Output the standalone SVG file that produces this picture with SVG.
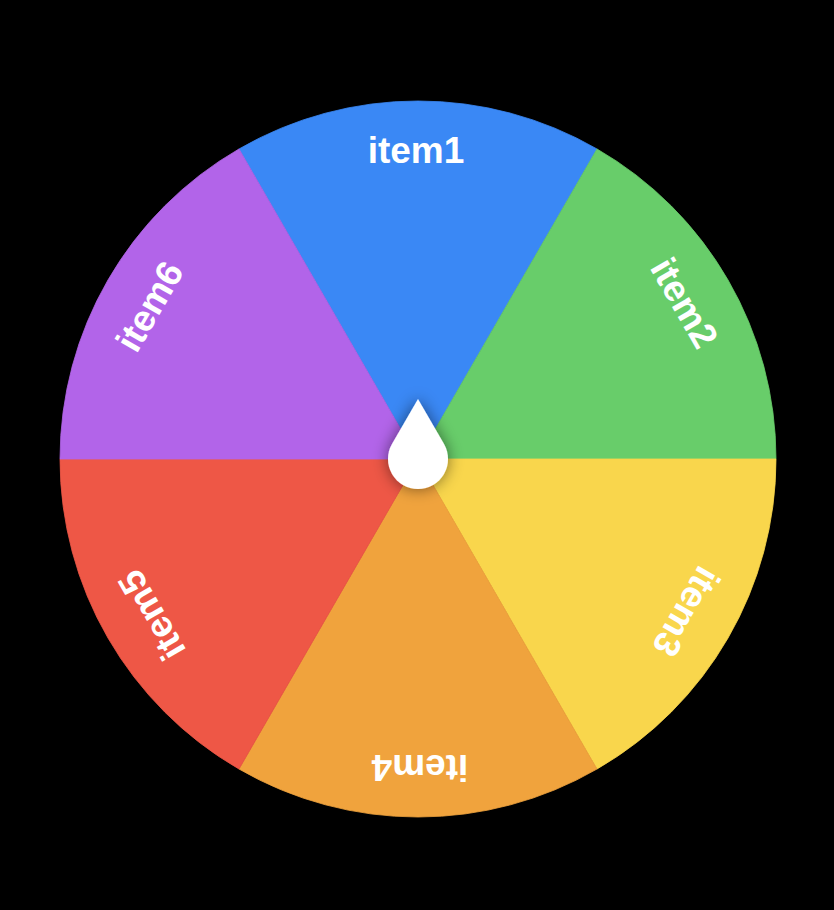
<svg xmlns="http://www.w3.org/2000/svg" width="834" height="910" viewBox="0 0 834 910">
<style>
.lbl{font-family:"Liberation Sans",Arial,sans-serif;font-weight:bold;font-size:37px;fill:#fff;text-anchor:middle}
.seg{stroke-width:0.8;stroke-linejoin:round}
</style>
<defs>
<filter id="sh" x="-100%" y="-100%" width="300%" height="300%">
<feGaussianBlur in="SourceAlpha" stdDeviation="8"/>
<feComponentTransfer><feFuncA type="linear" slope="0.5"/></feComponentTransfer>
<feMerge><feMergeNode/><feMergeNode in="SourceGraphic"/></feMerge>
</filter>
</defs>
<rect x="0" y="0" width="834" height="910" fill="#000"/>
<g id="item1"><path class="seg" d="M418,459 L239,148.96 A358,358 0 0 1 597,148.96 Z" fill="#3A88F5" stroke="#3A88F5"/><text class="lbl" x="416" y="163">item1</text></g>
<g id="item2"><path class="seg" d="M418,459 L597,148.96 A358,358 0 0 1 776,459 Z" fill="#68CD6A" stroke="#68CD6A"/><text class="lbl" x="416" y="163" transform="rotate(60 418 459)">item2</text></g>
<g id="item3"><path class="seg" d="M418,459 L776,459 A358,358 0 0 1 597,769.04 Z" fill="#F9D64C" stroke="#F9D64C"/><text class="lbl" x="416" y="163" transform="rotate(120 418 459)">item3</text></g>
<g id="item4"><path class="seg" d="M418,459 L597,769.04 A358,358 0 0 1 239,769.04 Z" fill="#F0A33D" stroke="#F0A33D"/><text class="lbl" x="416" y="163" transform="rotate(180 418 459)">item4</text></g>
<g id="item5"><path class="seg" d="M418,459 L239,769.04 A358,358 0 0 1 60,459 Z" fill="#EE5746" stroke="#EE5746"/><text class="lbl" x="416" y="163" transform="rotate(240 418 459)">item5</text></g>
<g id="item6"><path class="seg" d="M418,459 L60,459 A358,358 0 0 1 239,148.96 Z" fill="#B264E9" stroke="#B264E9"/><text class="lbl" x="416" y="163" transform="rotate(300 418 459)">item6</text></g>
<g id="pointer"><path d="M418,399 L444,444 A30,30 0 1 1 392,444 Z" fill="#fff" filter="url(#sh)"/></g>
<g id="connectors"></g>
</svg>
